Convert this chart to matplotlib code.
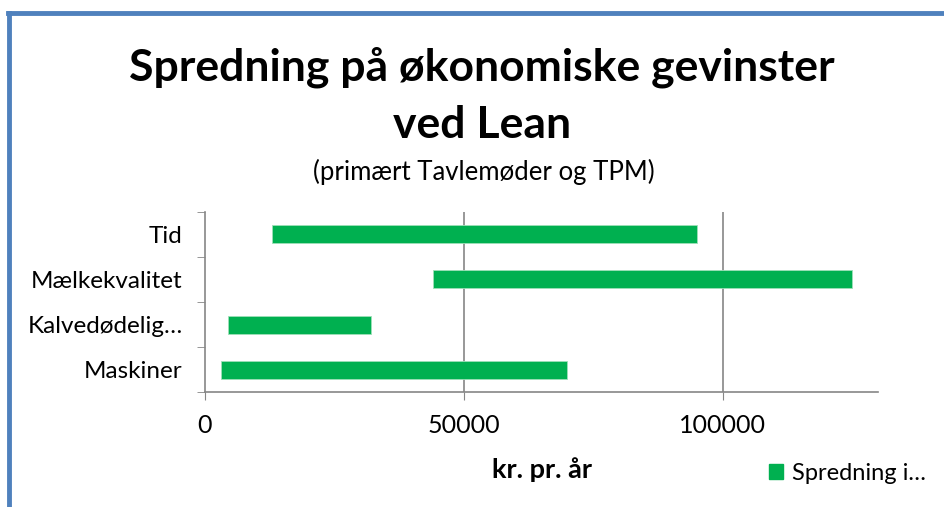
import matplotlib
matplotlib.use("Agg")
import matplotlib.pyplot as plt
from matplotlib.lines import Line2D
from matplotlib.patches import Patch

plt.rcParams['font.family'] = ['Lato', 'DejaVu Sans']

categories = ["Maskiner", "Kalvedødelig…", "Mælkekvalitet", "Tid"]
start_vals = [3000, 4500, 44000, 13000]
end_vals = [70000, 32000, 125000, 95000]
xticks = [0, 50000, 100000]
xtick_labels = ["0", "50000", "100000"]

green = "#00B050"
gray = "#868686"

fig = plt.figure(figsize=(9.44, 5.07), dpi=100)
ax = fig.add_axes([205/944, 1-392/507, (878-205)/944, (392-212)/507])

widths = [e - s for s, e in zip(start_vals, end_vals)]
ypos = list(range(len(categories)))
ax.barh(ypos, widths, left=start_vals, height=0.4, color=green, edgecolor="#9fe0b8", linewidth=0.6, zorder=3)

ax.set_xlim(0, 130000)
ax.set_ylim(-0.5, len(categories) - 0.5)
ax.set_xticks(xticks)
ax.set_xticklabels(xtick_labels, fontsize=18)
ax.set_yticks(ypos)
ax.set_yticklabels(categories, fontsize=17.5)
ax.tick_params(axis='y', length=0, pad=16)
ax.set_yticks([i - 0.5 for i in range(len(categories) + 1)], minor=True)
ax.tick_params(axis='y', which='minor', length=6, color=gray, direction='out')
ax.tick_params(axis='x', length=6, color=gray, direction='out', pad=10)

for s in ['top', 'right']:
    ax.spines[s].set_visible(False)
for s in ['left', 'bottom']:
    ax.spines[s].set_color(gray)
    ax.spines[s].set_linewidth(1.2)
for x in xticks[1:]:
    ax.axvline(x, color=gray, linewidth=1.2, zorder=1)

ax.set_xlabel("kr. pr. år", fontsize=19.5, fontweight='bold', labelpad=14)

fig.text(482/944, 1-67/507, "Spredning på økonomiske gevinster", ha='center', va='center',
         fontsize=32, fontweight='bold')
fig.text(482/944, 1-125/507, "ved Lean", ha='center', va='center', fontsize=32, fontweight='bold')
fig.text(484/944, 1-172/507, "(primært Tavlemøder og TPM)", ha='center', va='center', fontsize=18.5)

fig.legend(handles=[Patch(facecolor=green, edgecolor=green)], labels=["Spredning i…"],
           loc='center left', bbox_to_anchor=(748/944, 1-473/507), frameon=False,
           fontsize=17, handlelength=0.6, handleheight=0.6, handletextpad=0.35)

border = "#4F81BD"
fig.add_artist(Line2D([8/944, 1], [1-13/507, 1-13/507], color=border, linewidth=3.5, transform=fig.transFigure))
fig.add_artist(Line2D([8.5/944, 8.5/944], [0, 1-13/507], color=border, linewidth=3.5, transform=fig.transFigure))

fig.savefig("out.png", dpi=100)
